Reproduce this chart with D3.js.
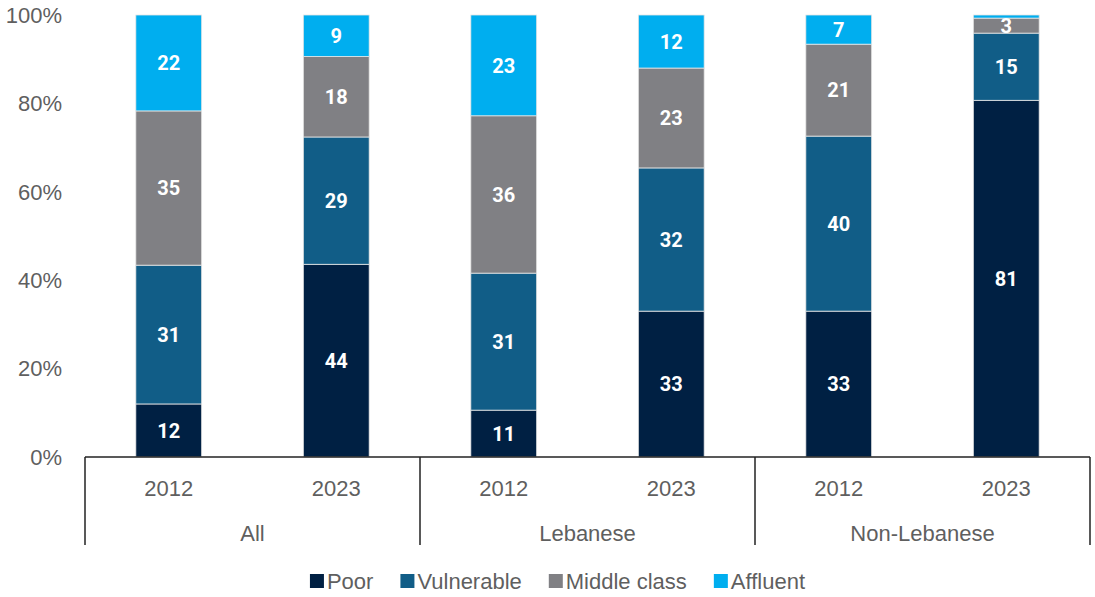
<!DOCTYPE html>
<html><head><meta charset="utf-8">
<script src="https://cdn.jsdelivr.net/npm/d3@7"></script>
<style>body{margin:0;background:#fff}svg{display:block}</style>
</head><body><svg id="c" width="1095" height="597"></svg>
<script>
const groups = ["All", "Lebanese", "Non-Lebanese"];
const years = ["2012", "2023"];
const seriesNames = ["Poor", "Vulnerable", "Middle class", "Affluent"];
const colors = ["#002043", "#115d87", "#808084", "#00aeef"];
// values per bar in order: All 2012, All 2023, Lebanese 2012, Lebanese 2023, Non-Lebanese 2012, Non-Lebanese 2023
const poor       = [12.0, 43.6, 10.6, 33.0, 33.0, 80.7];
const vulnerable = [31.4, 28.8, 31.0, 32.4, 39.6, 15.2];
const middle     = [34.9, 18.2, 35.6, 22.6, 20.8, 3.4];
const affluent   = [21.7, 9.4, 22.8, 12.0, 6.6, 0.7];
const yTicks = [0, 20, 40, 60, 80, 100];

const svg = d3.select("#c");
const font = "'Liberation Sans', Arial, sans-serif";
const L = 85, R = 1090, T = 15, B = 457;

const rows = [];
groups.forEach((g, gi) => years.forEach((yr, yi) => {
  const i = gi * 2 + yi;
  rows.push({group: g, year: yr, Poor: poor[i], Vulnerable: vulnerable[i], "Middle class": middle[i], Affluent: affluent[i]});
}));

const x0 = d3.scaleBand().domain(groups).range([L, R]).padding(0);
const x1 = d3.scalePoint().domain(years).range([0, x0.bandwidth()]).padding(0.5);
const barW = x1.step() * 0.393;
const y = d3.scaleLinear().domain([0, 100]).range([B, T]);
const color = d3.scaleOrdinal().domain(seriesNames).range(colors);

const stacked = d3.stack().keys(seriesNames)(rows);

// y tick labels
svg.append("g").selectAll("text").data(yTicks).join("text")
  .attr("x", 62).attr("y", d => y(d)).attr("dy", "0.35em")
  .attr("text-anchor", "end").attr("font-family", font).attr("font-size", 22)
  .attr("fill", "#5f5f5f").text(d => d + "%");

// bars
const layer = svg.append("g").selectAll("g").data(stacked).join("g")
  .attr("fill", d => color(d.key));
layer.selectAll("rect").data(d => d).join("rect")
  .attr("x", d => x0(d.data.group) + x1(d.data.year) - barW / 2)
  .attr("width", barW)
  .attr("y", d => y(d[1]))
  .attr("height", d => y(d[0]) - y(d[1]))
  .attr("stroke", "#e6e6e6").attr("stroke-width", 0.8);

// labels
stacked.forEach(s => {
  svg.append("g").selectAll("text").data(s.filter(d => d[1] - d[0] >= 2)).join("text")
    .attr("x", d => x0(d.data.group) + x1(d.data.year))
    .attr("y", d => (y(d[0]) + y(d[1])) / 2).attr("dy", "0.36em")
    .attr("text-anchor", "middle").attr("font-family", "Roboto, 'Liberation Sans', sans-serif")
    .attr("font-weight", "bold").attr("font-size", 20).attr("fill", "#fff")
    .text(d => String(Math.round(d.data[s.key])));
});

// axis line
svg.append("line").attr("x1", L).attr("x2", R).attr("y1", B).attr("y2", B)
  .attr("stroke", "#222").attr("stroke-width", 1.5);
// group dividers
const divs = groups.map(g => x0(g)).concat([R]);
svg.append("g").selectAll("line").data(divs).join("line")
  .attr("x1", d => d).attr("x2", d => d).attr("y1", B).attr("y2", 545)
  .attr("stroke", "#222").attr("stroke-width", 1.5);
// year labels
svg.append("g").selectAll("text").data(rows).join("text")
  .attr("x", d => x0(d.group) + x1(d.year)).attr("y", 496)
  .attr("text-anchor", "middle").attr("font-family", font).attr("font-size", 22)
  .attr("fill", "#5f5f5f").text(d => d.year);
// group labels
svg.append("g").selectAll("text").data(groups).join("text")
  .attr("x", d => x0(d) + x0.bandwidth() / 2).attr("y", 541)
  .attr("text-anchor", "middle").attr("font-family", font).attr("font-size", 22)
  .attr("fill", "#5f5f5f").text(d => d);

// legend
const lg = svg.append("g");
let cx = 0;
const gap = 27;
seriesNames.forEach(n => {
  const g = lg.append("g").attr("transform", `translate(${cx},0)`);
  g.append("rect").attr("x", 0).attr("y", -7).attr("width", 14).attr("height", 14).attr("fill", color(n));
  const t = g.append("text").attr("x", 17).attr("y", 0).attr("dy", "0.35em")
    .attr("font-family", font).attr("font-size", 22).attr("fill", "#5f5f5f").text(n);
  cx += 17 + t.node().getComputedTextLength() + gap;
});
const lw = cx - gap;
lg.attr("transform", `translate(${557.5 - lw / 2},581)`);
</script></body></html>
